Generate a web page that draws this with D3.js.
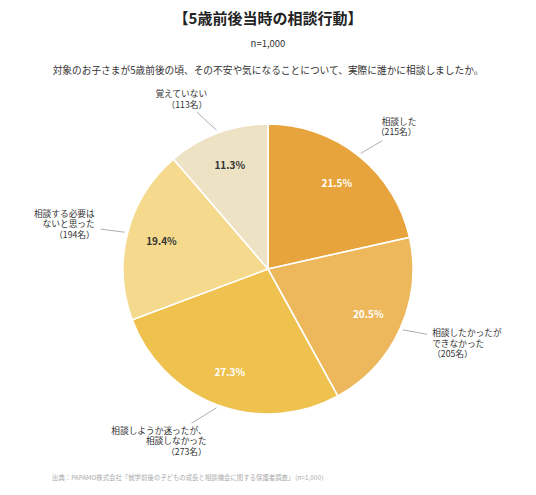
<!doctype html>
<html>
<head>
<meta charset="utf-8">
<title>5歳前後当時の相談行動</title>
<style>
  body { margin: 0; background: #fff; }
  svg text { font-family: "Noto Sans CJK JP", "Noto Sans", sans-serif; }
</style>
</head>
<body>
<svg id="chart" width="536" height="495"></svg>
<script src="https://cdn.jsdelivr.net/npm/d3@7"></script>
<script>
// data
const categories = ["相談した", "相談したかったが\nできなかった", "相談しようか迷ったが、\n相談しなかった", "相談する必要は\nないと思った", "覚えていない"];
const counts = [215, 205, 273, 194, 113];
const percents = [21.5, 20.5, 27.3, 19.4, 11.3];
const colors = ["#E8A43C", "#EDB85B", "#EFC14E", "#F5D98D", "#EEE2C5"];
const pctColors = ["#fff", "#fff", "#fff", "#333", "#333"];

// label layout: angle nudge for the leader end, text offset, anchor
const labelLayout = [
  {nudge: 3, dx: 34, dy: -19, anchor: "end"},
  {nudge: -2, dx: 5, dy: -1, anchor: "start"},
  {nudge: 6, dx: 15, dy: 8, anchor: "end"},
  {nudge: -1, dx: -6, dy: -15, anchor: "end"},
  {nudge: -4, dx: 10, dy: -18, anchor: "end"}
];

const svg = d3.select("#chart");
const cx = 268, cy = 269, radius = 145;

svg.append("text")
  .attr("x", cx).attr("y", 24)
  .attr("text-anchor", "middle")
  .attr("font-size", "15px").attr("font-weight", "bold")
  .attr("fill", "#222")
  .text("【5歳前後当時の相談行動】");

svg.append("text")
  .attr("x", cx).attr("y", 47)
  .attr("text-anchor", "middle")
  .attr("font-size", "9.5px").attr("fill", "#333")
  .text("n=1,000");

svg.append("text")
  .attr("x", cx).attr("y", 73.5)
  .attr("text-anchor", "middle")
  .attr("font-size", "9.7px").attr("fill", "#333")
  .text("対象のお子さまが5歳前後の頃、その不安や気になることについて、実際に誰かに相談しましたか。");

svg.append("text")
  .attr("x", 52).attr("y", 480)
  .attr("font-size", "6.4px").attr("fill", "#aaa")
  .text("出典：PAPAMO株式会社「就学前後の子どもの成長と相談機会に関する保護者調査」（n=1,000）");

const pie = d3.pie().sort(null).value(d => d);
const arcs = pie(percents);

const arc = d3.arc().innerRadius(0).outerRadius(radius);
const pctArc = d3.arc().innerRadius(110).outerRadius(110);

const g = svg.append("g").attr("transform", `translate(${cx},${cy})`);

g.selectAll("path.slice")
  .data(arcs)
  .enter()
  .append("path")
  .attr("class", "slice")
  .attr("d", arc)
  .attr("fill", (d, i) => colors[i])
  .attr("stroke", "#fff")
  .attr("stroke-width", 1.6);

g.selectAll("text.pct")
  .data(arcs)
  .enter()
  .append("text")
  .attr("class", "pct")
  .attr("transform", d => `translate(${pctArc.centroid(d)})`)
  .attr("dy", "0.35em")
  .attr("text-anchor", "middle")
  .attr("font-size", "10px").attr("font-weight", "bold")
  .attr("fill", (d, i) => pctColors[i])
  .text(d => d.data.toFixed(1) + "%");

// leader lines and outside labels
function polar(r, a) {
  return [r * Math.sin(a), -r * Math.cos(a)];
}

arcs.forEach((d, i) => {
  const mid = (d.startAngle + d.endAngle) / 2;
  const lay = labelLayout[i];
  const p0 = polar(radius + 3, mid);
  const p1 = polar(radius + 27, mid + lay.nudge * Math.PI / 180);

  g.append("line")
    .attr("x1", p0[0]).attr("y1", p0[1])
    .attr("x2", p1[0]).attr("y2", p1[1])
    .attr("stroke", "#999").attr("stroke-width", 0.8);

  const lines = categories[i].split("\n").concat(["（" + counts[i] + "名）"]);
  const t = g.append("text")
    .attr("font-size", "8.7px").attr("fill", "#333")
    .attr("text-anchor", lay.anchor);
  lines.forEach((s, k) => {
    t.append("tspan")
      .attr("x", p1[0] + lay.dx)
      .attr("y", p1[1] + lay.dy + k * 10.2)
      .attr("dy", "0.35em")
      .text(s);
  });
});
</script>
</body>
</html>
